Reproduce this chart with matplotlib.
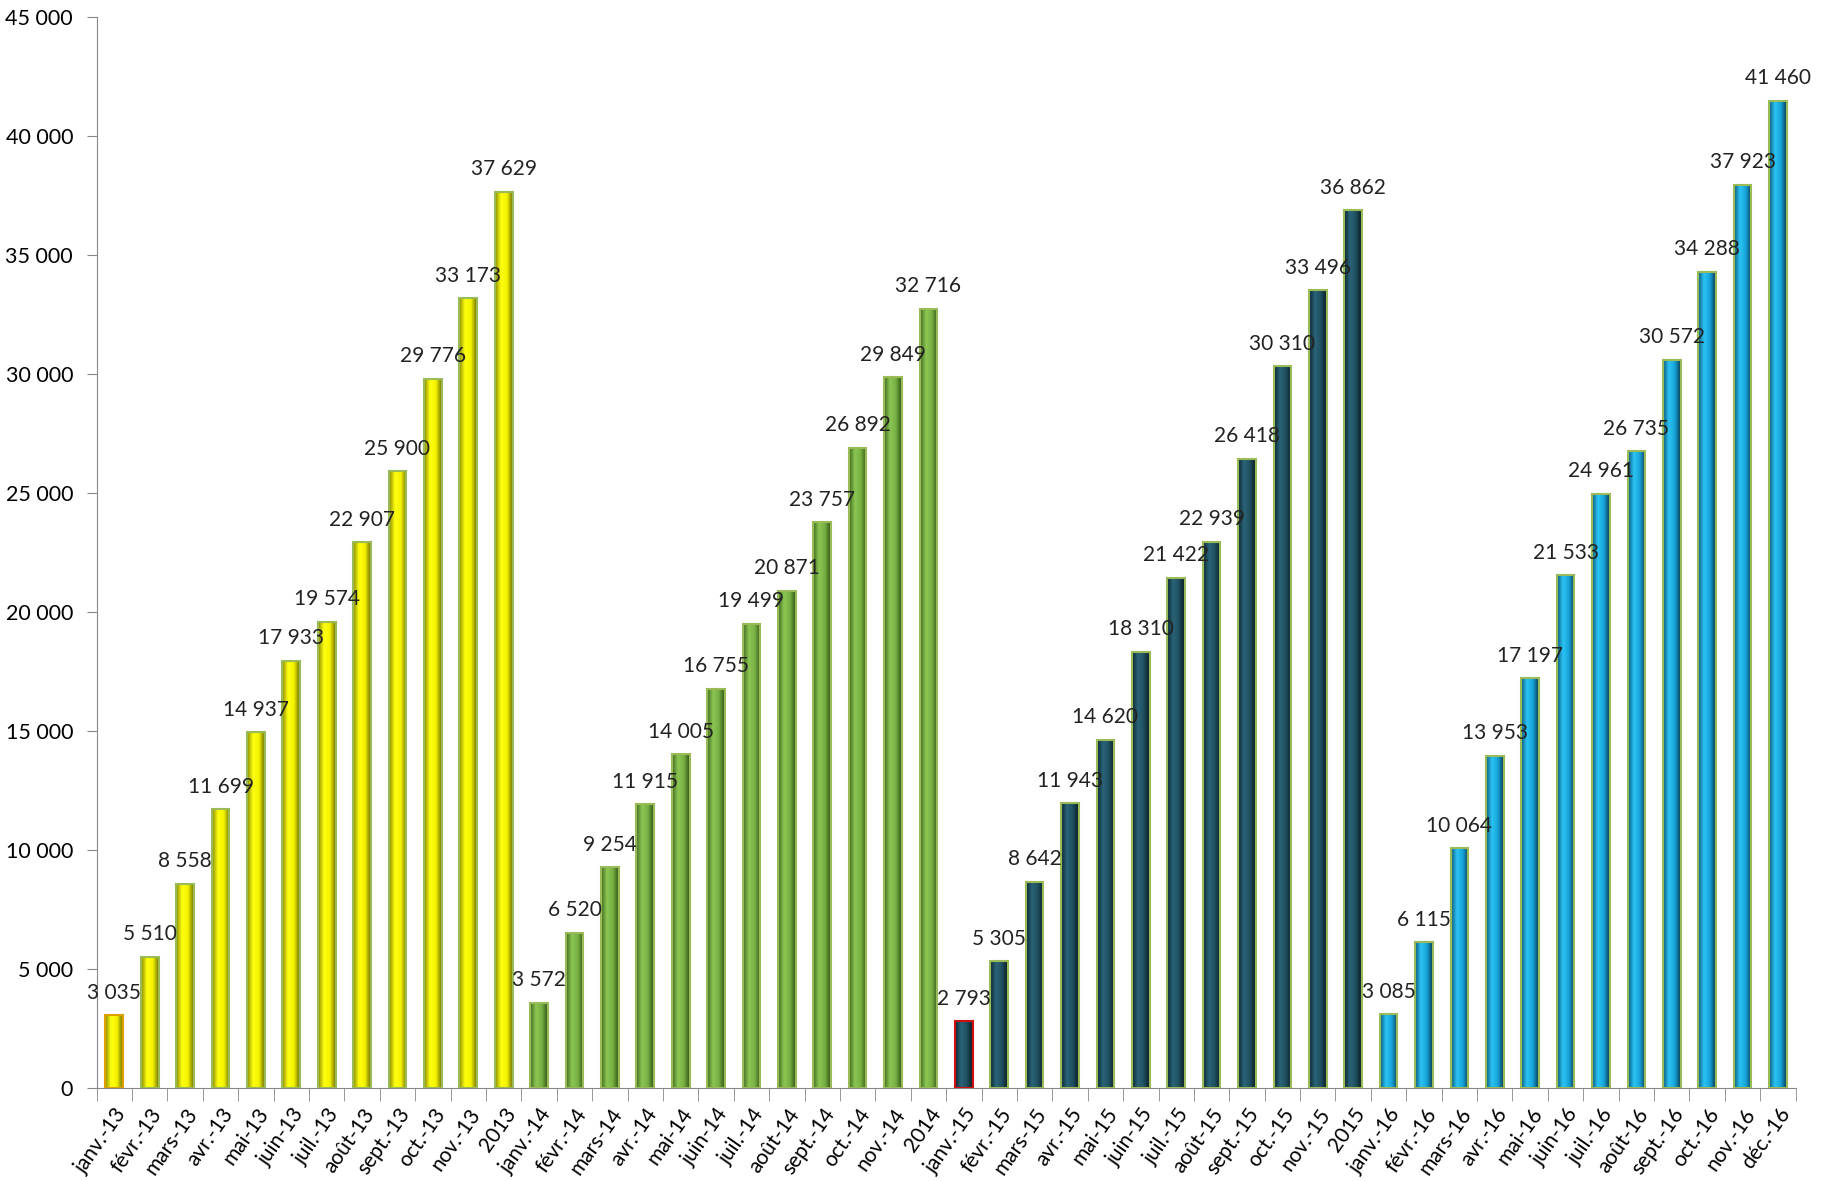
import matplotlib.pyplot as plt
import numpy as np
from matplotlib.colors import LinearSegmentedColormap

plt.rcParams['font.family'] = ['Lato', 'DejaVu Sans']

# mois et cumuls
categories = ['janv.-13', 'févr.-13', 'mars-13', 'avr.-13', 'mai-13', 'juin-13',
              'juil.-13', 'août-13', 'sept.-13', 'oct.-13', 'nov.-13', '2013',
              'janv.-14', 'févr.-14', 'mars-14', 'avr.-14', 'mai-14', 'juin-14',
              'juil.-14', 'août-14', 'sept.-14', 'oct.-14', 'nov.-14', '2014',
              'janv.-15', 'févr.-15', 'mars-15', 'avr.-15', 'mai-15', 'juin-15',
              'juil.-15', 'août-15', 'sept.-15', 'oct.-15', 'nov.-15', '2015',
              'janv.-16', 'févr.-16', 'mars-16', 'avr.-16', 'mai-16', 'juin-16',
              'juil.-16', 'août-16', 'sept.-16', 'oct.-16', 'nov.-16', 'déc.-16']
values = [3035, 5510, 8558, 11699, 14937, 17933, 19574, 22907, 25900, 29776, 33173, 37629,
          3572, 6520, 9254, 11915, 14005, 16755, 19499, 20871, 23757, 26892, 29849, 32716,
          2793, 5305, 8642, 11943, 14620, 18310, 21422, 22939, 26418, 30310, 33496, 36862,
          3085, 6115, 10064, 13953, 17197, 21533, 24961, 26735, 30572, 34288, 37923, 41460]
years = [2013] * 12 + [2014] * 12 + [2015] * 12 + [2016] * 12

# dégradés "cylindre" par année
gradients = {
    2013: ['#8a8a00', '#ffff10', '#f4f400', '#6f6f00'],
    2014: ['#3f6a1e', '#8cc653', '#77b043', '#2f5214'],
    2015: ['#0b2630', '#2a6478', '#1f4f5f', '#071a21'],
    2016: ['#0a5a80', '#2cc4f4', '#16a3d9', '#07374f'],
}
cmaps = {y: LinearSegmentedColormap.from_list(str(y), c) for y, c in gradients.items()}

fig = plt.figure(figsize=(18.23, 11.81), dpi=100)
ax = fig.add_axes([0.053, 0.079, 0.932, 0.907])

x = np.arange(len(values))
width = 0.5
edges = ['#9bbb59'] * len(values)
edges[0] = '#e0a000'
edges[24] = '#d01010'
bars = ax.bar(x, values, width, color='none', edgecolor=edges, linewidth=1.5, zorder=3)

grad = np.linspace(0, 1, 64).reshape(1, -1)
for b, yr in zip(bars, years):
    x0 = b.get_x()
    h = b.get_height()
    im = ax.imshow(grad, cmap=cmaps[yr], aspect='auto', zorder=2,
                   extent=[x0, x0 + b.get_width(), 0, h], interpolation='bicubic')
    im.set_clip_path(b)

for xi, v in zip(x, values):
    ax.annotate(f'{v:,}'.replace(',', ' '), (xi, v), xytext=(0, 9),
                textcoords='offset points', ha='center', va='bottom',
                fontsize=15, color='#222222')

ax.set_xlim(-0.5, len(values) - 0.5)
ax.set_ylim(0, 45000)
ax.set_yticks(range(0, 45001, 5000))
ax.set_yticklabels([f'{t:,}'.replace(',', ' ') for t in range(0, 45001, 5000)], fontsize=15.5)

ax.set_xticks(x)
ax.set_xticklabels(categories, rotation=55, ha='right', rotation_mode='anchor', fontsize=15)
ax.set_xticks(np.arange(-0.5, len(values), 1), minor=True)
ax.tick_params(axis='x', which='major', length=0, pad=12)
ax.tick_params(axis='x', which='minor', length=9, color='#888888')
ax.tick_params(axis='y', length=7, color='#888888', pad=10)

for s in ['top', 'right']:
    ax.spines[s].set_visible(False)
for s in ['left', 'bottom']:
    ax.spines[s].set_color('#888888')

fig.savefig('out.png', dpi=100)
